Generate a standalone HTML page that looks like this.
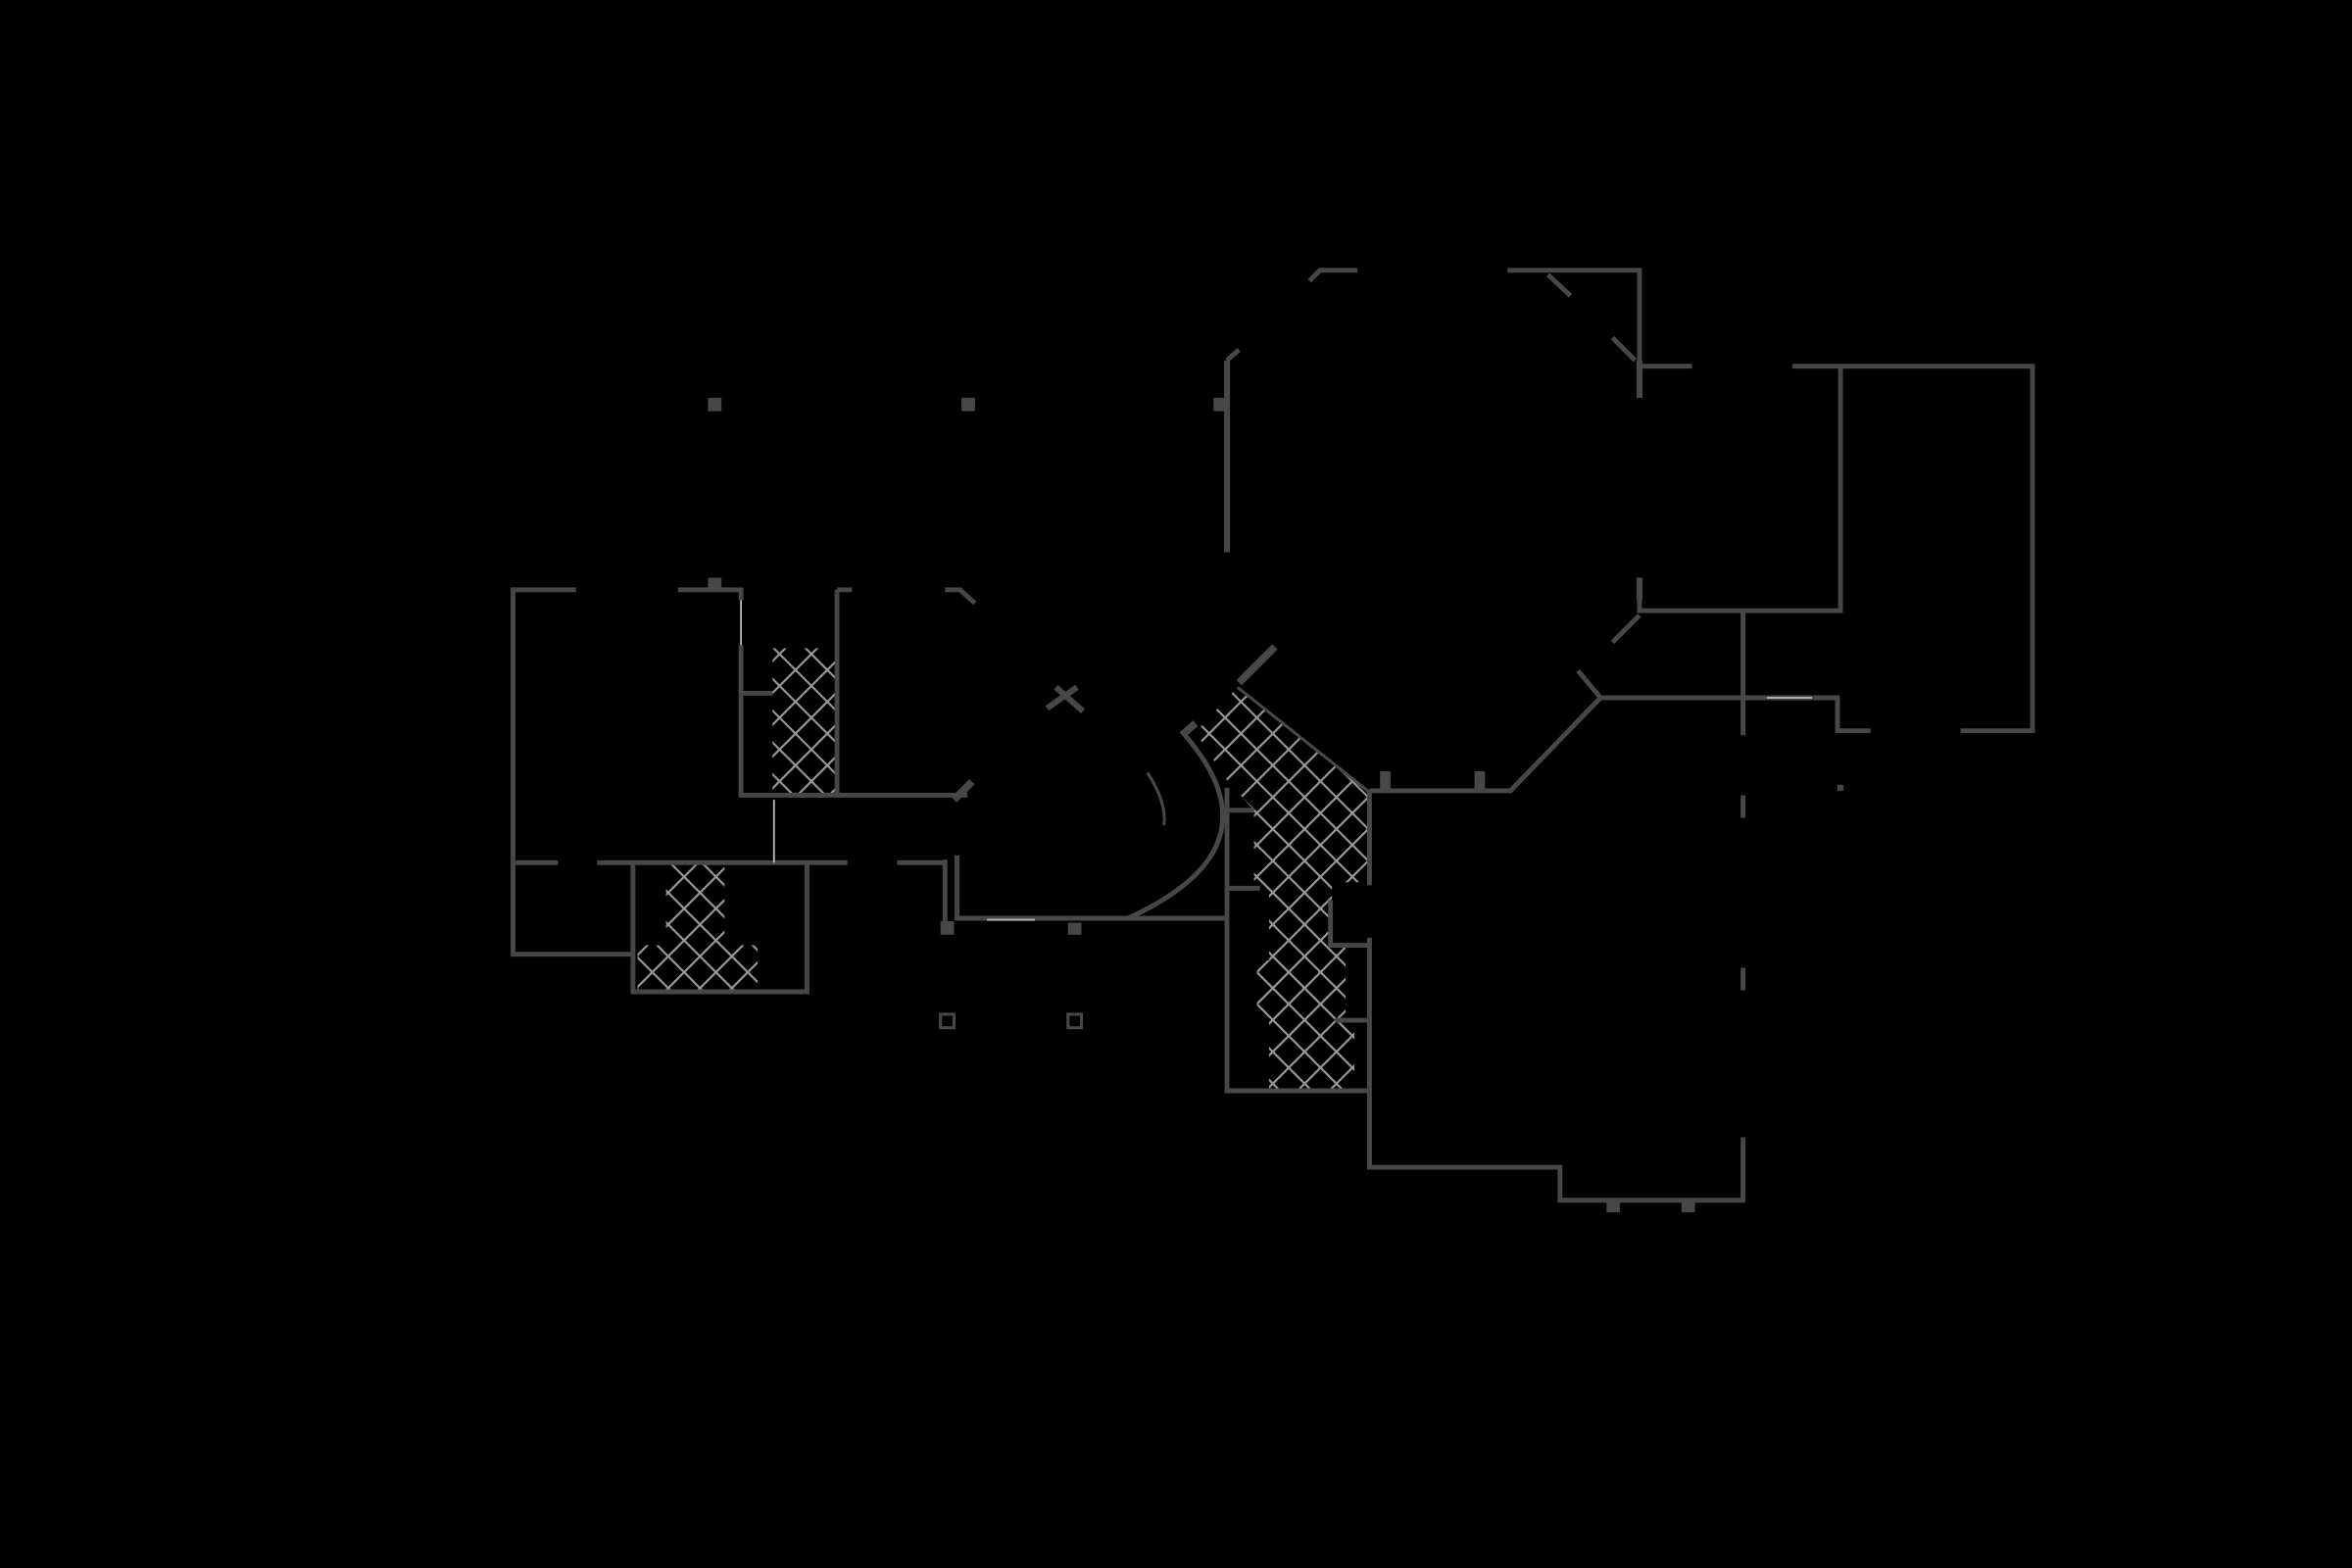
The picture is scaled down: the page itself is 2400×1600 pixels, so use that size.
<!DOCTYPE html>
<html><head><meta charset="utf-8"><style>html,body{margin:0;padding:0;background:#000}svg{display:block}</style></head>
<body>
<svg width="2400" height="1600" viewBox="0 0 1568 1045" xmlns="http://www.w3.org/2000/svg">
<defs>
<pattern id="h" width="15" height="15" patternUnits="userSpaceOnUse" patternTransform="rotate(45)">
<rect width="15" height="15" fill="#000"/>
<path d="M0 0H15M0 0V15" stroke="#9a9a9a" stroke-width="2.8"/>
</pattern>
</defs>
<rect width="1568" height="1045" fill="#000"/>
<g fill="url(#h)">
<rect x="515" y="432" width="43" height="98"/>
<rect x="444" y="575" width="39" height="58"/>
<rect x="425" y="630" width="80" height="30"/>
<polygon points="797,488 825,458 913,528 913,588 888,588 888,625 897,625 897,680 903,680 903,726 846,726 846,680 838,680 838,640 846,640 846,596 836,596 836,540 818,520"/>
</g>
<g fill="none" stroke="#474747" stroke-width="3.2">
<path d="M384 393H342V636H422V661H538V575M452 393H494V400M494 430V530H645M558 393V530M558 393H568M630 393H640L650 402"/>
<path d="M494 462H515M342 575H372M398 575H565M598 575H630"/>
<path d="M422 575V636"/>
<path d="M630 573V620M638 570V612H818M818 525V727H913M913 528V590M913 625V778H1040V800H1162V758"/>
<path d="M818 592H840M887 600V630H913M890 680H913M818 540H836"/>
<path d="M790 490Q855 565 752 612"/>
<path d="M913 527H1007L1067 465H1225V487H1247M1307 487H1355V244H1195M1128 244H1093"/>
<path d="M1005 180H1093V265M873 187L880 180H905M1032 183L1047 197M1075 225L1090 240"/>
<path d="M818 240L826 233M1093 385V407H1227V244M1093 410L1075 428M1052 447L1067 465"/>
<path d="M1162 407V490M1162 530V545M1162 645V660"/>
<path d="M825 458L913 528" stroke-width="2"/>
<path d="M765 515Q778 535 776 550" stroke-width="2"/>
</g>
<g stroke="#474747" fill="none">
<path d="M818 240V368" stroke-width="4"/>
<path d="M826 455L850 431" stroke-width="5"/>
<path d="M788 490L797 482" stroke-width="5"/>
<path d="M698 472L718 458M704 458L722 474" stroke-width="4"/>
<path d="M636 533L648 521" stroke-width="5"/>
<path d="M1093 240V265M1093 385V400" stroke-width="4"/>
</g>
<g stroke="#bbb" stroke-width="1.2">
<path d="M494 400V430M516 533V575M658 613H690M1178 465H1208"/>
</g>
<g fill="#474747">
<rect x="472" y="265" width="9" height="9"/>
<rect x="641" y="265" width="9" height="9"/>
<rect x="809" y="265" width="8" height="9"/>
<rect x="472" y="385" width="9" height="8"/>
<rect x="920" y="514" width="7" height="13"/>
<rect x="983" y="514" width="7" height="13"/>
<rect x="627" y="614" width="9" height="9"/>
<rect x="712" y="615" width="9" height="8"/>
<rect x="1071" y="800" width="9" height="8"/>
<rect x="1121" y="800" width="9" height="8"/>
<rect x="1225" y="523" width="4" height="4"/>
</g>
<g fill="none" stroke="#474747" stroke-width="2">
<rect x="627" y="676" width="9" height="9"/>
<rect x="712" y="676" width="9" height="9"/>
</g>
</svg>
</body></html>
